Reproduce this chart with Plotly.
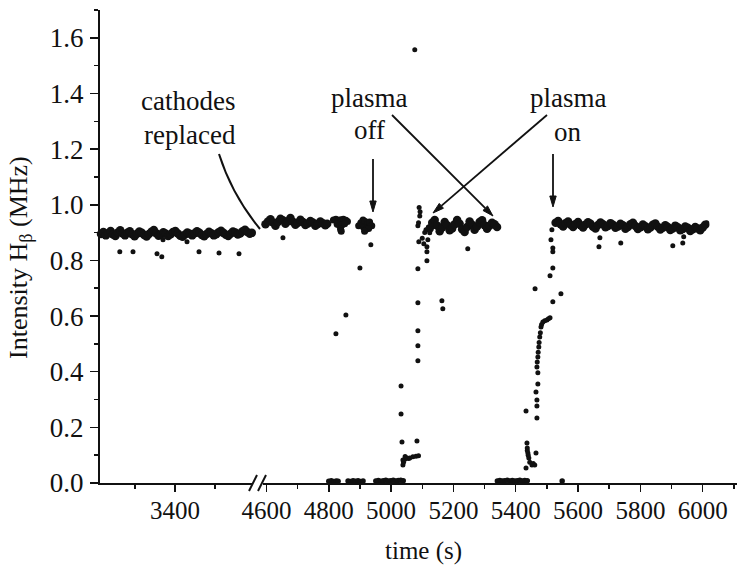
import math
import plotly.graph_objects as go

# ---------------- data ----------------
# left segment of the broken time axis (before cathode replacement)
left_band_time = [3215, 3221, 3227, 3233, 3239, 3245, 3251, 3257,
                  3263, 3269, 3275, 3281, 3287, 3293, 3299, 3305,
                  3311, 3317, 3323, 3329, 3335, 3341, 3347, 3353,
                  3359, 3365, 3371, 3377, 3383, 3389, 3395, 3401,
                  3407, 3413, 3419, 3425, 3431, 3437, 3443, 3449,
                  3455, 3461, 3467, 3473, 3479, 3485, 3491, 3497,
                  3503, 3509, 3515, 3521, 3527, 3533, 3539, 3545,
                  3551, 3557, 3563, 3569, 3575, 3581, 3587, 3592]
left_band_value = [0.895, 0.902, 0.890, 0.898, 0.906, 0.893, 0.888, 0.900,
                   0.908, 0.897, 0.890, 0.899, 0.905, 0.894, 0.887, 0.896,
                   0.904, 0.899, 0.891, 0.886, 0.895, 0.903, 0.909, 0.898,
                   0.889, 0.893, 0.901, 0.896, 0.888, 0.894, 0.902, 0.906,
                   0.897, 0.889, 0.885, 0.893, 0.900, 0.896, 0.890, 0.898,
                   0.905, 0.899, 0.891, 0.887, 0.895, 0.903, 0.898, 0.890,
                   0.894, 0.901, 0.907, 0.899, 0.892, 0.888, 0.896, 0.904,
                   0.900, 0.893, 0.897, 0.905, 0.910, 0.902, 0.896, 0.899]
left_outlier_time = [3262, 3295, 3355, 3367, 3370, 3430, 3460, 3510, 3560]
left_outlier_value = [0.831, 0.831, 0.824, 0.813, 0.874, 0.867, 0.831, 0.827, 0.824]

# right segment
band_a_time = [4597, 4605, 4613, 4621, 4629, 4637, 4645, 4653, 4661, 4669,
               4677, 4685, 4693, 4701, 4709, 4717, 4725, 4733, 4741, 4749,
               4757, 4765, 4773, 4781, 4789, 4795]
band_a_value = [0.930, 0.940, 0.948, 0.936, 0.925, 0.938, 0.950, 0.944, 0.932, 0.941,
                0.952, 0.939, 0.928, 0.935, 0.946, 0.938, 0.927, 0.933, 0.942, 0.936,
                0.925, 0.931, 0.940, 0.934, 0.926, 0.932]

v_cluster_time = [4815, 4823, 4831, 4839, 4847, 4855, 4860, 4827, 4835, 4843, 4851, 4838, 4840]
v_cluster_value = [0.945, 0.948, 0.944, 0.946, 0.948, 0.944, 0.940, 0.930, 0.925, 0.928, 0.932, 0.912, 0.905]

pre_off_time = [4896, 4903, 4910, 4917, 4924, 4931, 4938, 4912, 4920, 4928, 4915]
pre_off_value = [0.925, 0.935, 0.945, 0.940, 0.930, 0.938, 0.925, 0.918, 0.912, 0.915, 0.905]

off_transient_time = [5032, 5032, 5035, 5038, 5038, 5040, 5044, 5045, 5051, 5056, 5060, 5070,
                      5080, 5088, 5083, 5086, 5086, 5086, 5086, 5086, 5089, 5086, 5088,
                      5092, 5093, 5090, 5100, 5105, 5108, 5112, 5115, 5115, 5115, 5118,
                      5120, 5124, 5134, 5163, 5166, 5246]
off_transient_value = [0.349, 0.248, 0.147, 0.065, 0.083, 0.075, 0.085, 0.095, 0.090, 0.088, 0.090, 0.094,
                       0.096, 0.098, 0.151, 0.439, 0.493, 0.547, 0.648, 0.770, 0.867, 0.925, 0.935,
                       0.960, 0.975, 0.990, 0.880, 0.860, 0.900, 0.910, 0.799, 0.831, 0.849, 0.874,
                       0.920, 0.899, 0.921, 0.655, 0.626, 0.842]

band_b_time = [5124, 5132, 5140, 5148, 5156, 5164, 5172, 5180, 5188, 5196,
               5204, 5212, 5220, 5228, 5236, 5244, 5252, 5260, 5268, 5276,
               5284, 5292, 5300, 5308, 5316, 5324, 5332, 5340]
band_b_value = [0.915, 0.935, 0.945, 0.925, 0.905, 0.918, 0.938, 0.926, 0.908, 0.915,
                0.930, 0.945, 0.932, 0.912, 0.902, 0.920, 0.940, 0.928, 0.910, 0.922,
                0.938, 0.944, 0.926, 0.914, 0.925, 0.935, 0.930, 0.920]

near_zero_time = [4800, 4808, 4816, 4824, 4830, 4862, 4870, 4878, 4886, 4894, 4902, 4910,
                  4951, 4959, 4967, 4975, 4983, 4991, 4999, 5007, 5015, 5023, 5031, 5039,
                  5341, 5349, 5357, 5365, 5373, 5381, 5389, 5397, 5405, 5413, 5421, 5429, 5437,
                  5549]
near_zero_value = [0.006, 0.008, 0.005, 0.007, 0.006, 0.007, 0.005, 0.008, 0.006, 0.008, 0.005, 0.007,
                   0.007, 0.009, 0.006, 0.008, 0.010, 0.007, 0.008, 0.010, 0.007, 0.009, 0.010, 0.008,
                   0.007, 0.009, 0.007, 0.008, 0.010, 0.007, 0.009, 0.007, 0.008, 0.010, 0.007, 0.009, 0.008,
                   0.007]

on_transient_time = [5433, 5436, 5437, 5439, 5442, 5445, 5452, 5456, 5461, 5465, 5440, 5437,
                     5433, 5468, 5468, 5468, 5465, 5471, 5471, 5468, 5469, 5471, 5472, 5474,
                     5475, 5477, 5479, 5481, 5483, 5487, 5493, 5500, 5505, 5510, 5462, 5519,
                     5545, 5510, 5519, 5516, 5513, 5519, 5519]
on_transient_value = [0.054, 0.144, 0.126, 0.108, 0.090, 0.075, 0.065, 0.070, 0.065, 0.108, 0.100, 0.117,
                      0.259, 0.234, 0.277, 0.298, 0.327, 0.356, 0.396, 0.417, 0.435, 0.453, 0.470, 0.489,
                      0.505, 0.525, 0.540, 0.561, 0.570, 0.579, 0.583, 0.586, 0.590, 0.594, 0.698, 0.651,
                      0.680, 0.745, 0.773, 0.910, 0.874, 0.845, 0.831]

band_c_time = [5528, 5536, 5544, 5552, 5560, 5568, 5576, 5584, 5592, 5600,
               5608, 5616, 5624, 5632, 5640, 5648, 5656, 5664, 5672, 5680,
               5688, 5696, 5704, 5712, 5720, 5728, 5736, 5744, 5752, 5760,
               5768, 5776, 5784, 5792, 5800, 5808, 5816, 5824, 5832, 5840,
               5848, 5856, 5864, 5872, 5880, 5888, 5896, 5904, 5912, 5920,
               5928, 5936, 5944, 5952, 5960, 5968, 5976, 5984, 5992, 6000, 6008]
band_c_value = [0.935, 0.942, 0.930, 0.922, 0.934, 0.940, 0.928, 0.920, 0.931, 0.938,
                0.926, 0.918, 0.929, 0.937, 0.932, 0.921, 0.915, 0.927, 0.936, 0.930,
                0.919, 0.924, 0.934, 0.928, 0.917, 0.922, 0.932, 0.926, 0.914, 0.920,
                0.930, 0.935, 0.924, 0.913, 0.919, 0.929, 0.923, 0.912, 0.918, 0.928,
                0.933, 0.921, 0.911, 0.917, 0.926, 0.920, 0.909, 0.915, 0.925, 0.919,
                0.908, 0.913, 0.922, 0.917, 0.906, 0.912, 0.920, 0.915, 0.908, 0.918, 0.928]

right_outlier_time = [4653, 4935, 4900, 4855, 4823, 5076, 5670, 5667, 5737, 5904, 5936, 5939, 6013]
right_outlier_value = [0.881, 0.856, 0.773, 0.604, 0.536, 1.557, 0.881, 0.849, 0.863, 0.853, 0.863, 0.885, 0.935]

left_ticks = [3400]
left_minor = [3300, 3500]
right_ticks = [4600, 4800, 5000, 5200, 5400, 5600, 5800, 6000]
y_ticks = [0.0, 0.2, 0.4, 0.6, 0.8, 1.0, 1.2, 1.4, 1.6]

# ---------------- figure ----------------
FONT = "Liberation Serif, DejaVu Serif, Times New Roman, serif"
INK = "#111111"
W, H = 737, 569
ML, MR, MT, MB = 100, 0, 10, 86
PW, PH = W - ML - MR, H - MT - MB


def fx(p):
    return (p - ML) / PW


def fy(p):
    return (H - MB - p) / PH


fig = go.Figure()


def add(t, v, xa, size):
    fig.add_trace(go.Scatter(x=t, y=v, mode="markers",
                             marker=dict(color=INK, size=size, line=dict(width=0)),
                             xaxis=xa, yaxis="y", cliponaxis=False, showlegend=False,
                             hoverinfo="skip"))


BAND, DOT = 8.5, 5
add(left_band_time, left_band_value, "x", BAND)
add(left_outlier_time, left_outlier_value, "x", DOT)
for t, v, s in [(band_a_time, band_a_value, BAND), (v_cluster_time, v_cluster_value, 7),
                (pre_off_time, pre_off_value, 7), (off_transient_time, off_transient_value, DOT),
                (band_b_time, band_b_value, BAND), (near_zero_time, near_zero_value, 5.5),
                (on_transient_time, on_transient_value, DOT), (band_c_time, band_c_value, BAND),
                (right_outlier_time, right_outlier_value, DOT)]:
    add(t, v, "x2", s)

common = dict(showline=True, linecolor=INK, linewidth=2, ticks="outside", tickcolor=INK,
              tickwidth=1.5, ticklen=7, showgrid=False, zeroline=False,
              tickfont=dict(family=FONT, size=25, color=INK),
              fixedrange=True, automargin=False, ticklabelstandoff=-3)
minor_style = dict(ticks="outside", ticklen=4, tickcolor=INK, tickwidth=1.5, showgrid=False)

fig.update_layout(
    width=W, height=H,
    margin=dict(l=ML, r=MR, t=MT, b=MB, pad=0),
    paper_bgcolor="white", plot_bgcolor="white", showlegend=False,
    xaxis=dict(domain=[0, fx(253)], range=[3212.5, 3595], tickmode="array",
               tickvals=left_ticks, ticktext=[str(v) for v in left_ticks],
               minor=dict(tickmode="array", tickvals=left_minor, **minor_style),
               anchor="y", **common),
    xaxis2=dict(domain=[fx(263), 1], range=[4589, 6110], tickmode="array",
                tickvals=right_ticks, ticktext=[str(v) for v in right_ticks],
                minor=dict(tick0=4600, dtick=100, **minor_style),
                anchor="y", **common),
    yaxis=dict(domain=[0, 1], range=[0, 1.70], tickmode="array", tickvals=y_ticks,
               ticktext=["%.1f" % v for v in y_ticks],
               minor=dict(tick0=0, dtick=0.1, **minor_style),
               anchor="x", **dict(common, ticklen=8, ticklabelstandoff=1,
                                  tickfont=dict(family=FONT, size=27, color=INK))),
)

annotations = []


def label(text, x, y, size=27, **kw):
    d = dict(text=text, x=fx(x), y=fy(y), xref="paper", yref="paper", showarrow=False,
             xanchor="center", yanchor="middle", font=dict(family=FONT, size=size, color=INK))
    d.update(kw)
    annotations.append(d)


label("cathodes", 188, 101)
label("replaced", 190, 135)
label("plasma", 369, 98)
label("off", 369, 130)
label("plasma", 568, 98)
label("on", 568, 132)
label("time (s)", 423, 551, size=25)
label("Intensity H<sub>β</sub> (MHz)", 20, 258, size=26, textangle=-90)

shapes = [
    dict(type="path", xref="paper", yref="paper",
         path="M %f,%f Q %f,%f %f,%f" % (fx(219), fy(154), fx(232), fy(195), fx(260), fy(229)),
         line=dict(color=INK, width=2)),
    dict(type="line", xref="paper", yref="paper", x0=fx(249), y0=fy(491), x1=fx(257), y1=fy(475),
         line=dict(color=INK, width=2)),
    dict(type="line", xref="paper", yref="paper", x0=fx(258), y0=fy(491), x1=fx(266), y1=fy(475),
         line=dict(color=INK, width=2)),
]


def arrow(tail, head, L=11, hw=3.2):
    dx, dy = head[0] - tail[0], head[1] - tail[1]
    n = math.hypot(dx, dy)
    ux, uy = dx / n, dy / n
    bx, by = head[0] - L * ux, head[1] - L * uy
    lx, ly = bx - hw * uy, by + hw * ux
    rx, ry = bx + hw * uy, by - hw * ux
    shapes.append(dict(type="line", xref="paper", yref="paper",
                       x0=fx(tail[0]), y0=fy(tail[1]), x1=fx(bx), y1=fy(by),
                       line=dict(color=INK, width=1.8)))
    shapes.append(dict(type="path", xref="paper", yref="paper",
                       path="M %f,%f L %f,%f L %f,%f Z" % (fx(head[0]), fy(head[1]),
                                                           fx(lx), fy(ly), fx(rx), fy(ry)),
                       fillcolor=INK, line=dict(color=INK, width=1)))


arrow((373, 159), (373, 212))
arrow((553, 154), (553, 207))
arrow((392, 115), (493, 216))
arrow((547, 115), (433, 213))

fig.update_layout(annotations=annotations, shapes=shapes)
fig.write_html("out.html", config={"staticPlot": True},
               post_script="document.body.style.margin='0px';document.body.style.padding='0px';")
